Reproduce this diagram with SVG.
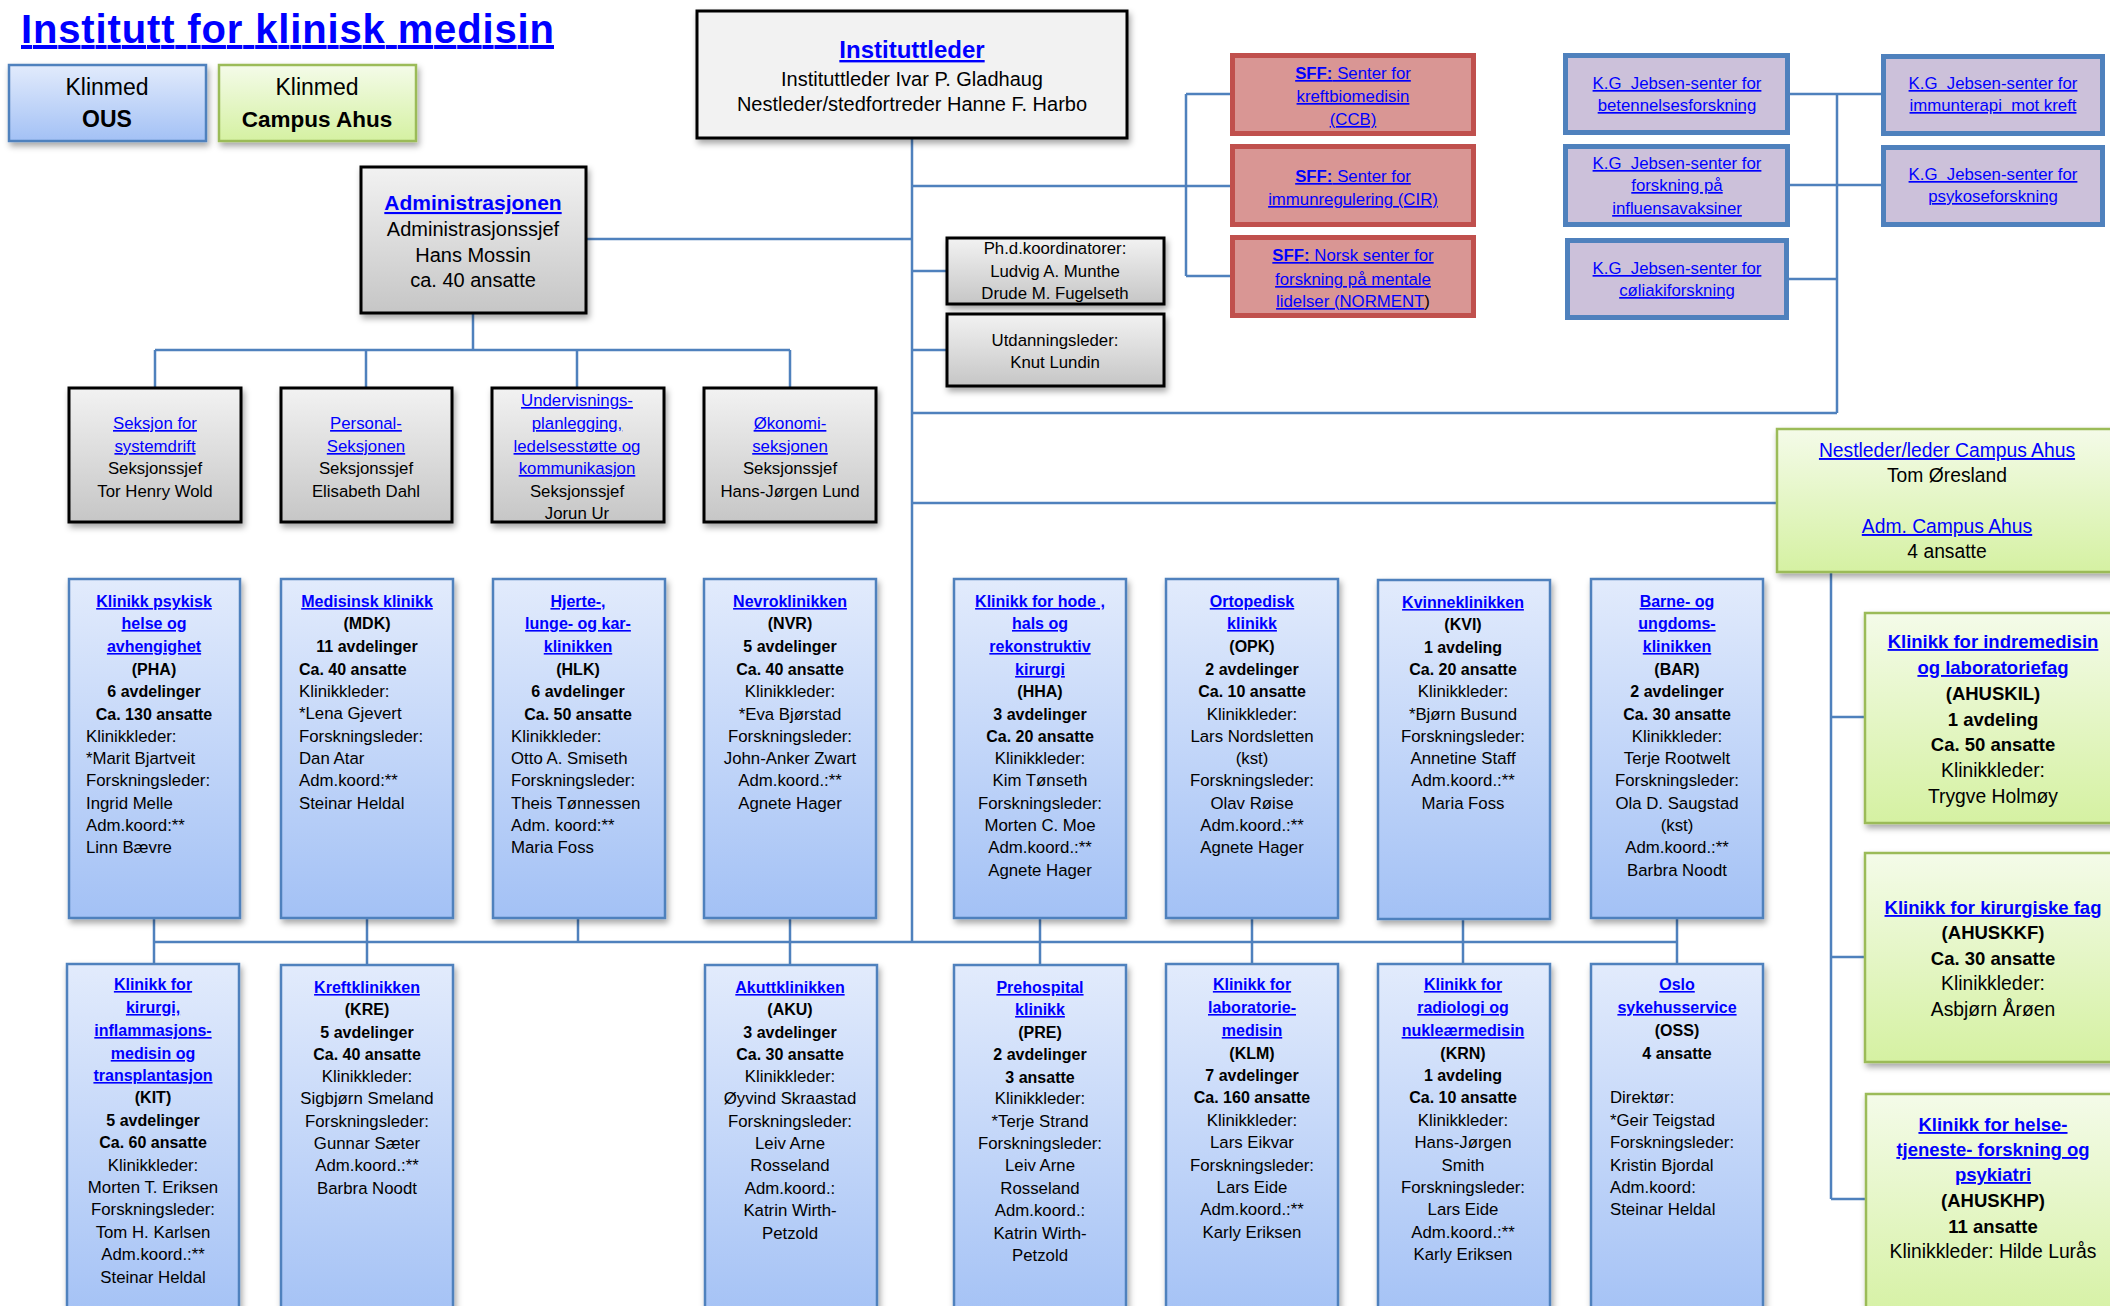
<svg xmlns="http://www.w3.org/2000/svg" width="2110" height="1306" viewBox="0 0 2110 1306">
<defs>
<linearGradient id="gGray" x1="0" y1="0" x2="0" y2="1"><stop offset="0" stop-color="#f2f2f2"/><stop offset="1" stop-color="#c6c6c6"/></linearGradient>
<linearGradient id="gBlue" x1="0" y1="0" x2="0" y2="1"><stop offset="0" stop-color="#e2ebfc"/><stop offset="1" stop-color="#a3c1f5"/></linearGradient>
<linearGradient id="gGreen" x1="0" y1="0" x2="0" y2="1"><stop offset="0" stop-color="#f4fbe9"/><stop offset="1" stop-color="#d5f1a2"/></linearGradient>
<filter id="sh" x="-10%" y="-10%" width="130%" height="130%"><feDropShadow dx="2" dy="4" stdDeviation="3" flood-color="#000" flood-opacity="0.35"/></filter>
<style>
.gray{fill:url(#gGray);stroke:#000;stroke-width:3}
.blue{fill:url(#gBlue);stroke:#4f81bd;stroke-width:2.5}
.green{fill:url(#gGreen);stroke:#9bbb59;stroke-width:2.5}
.sff{fill:#d99694;stroke:#c0504d;stroke-width:5}
.kg{fill:#ccc1da;stroke:#4f81bd;stroke-width:5}
.con path{fill:none;stroke:#4f81bd;stroke-width:2.5}
text{font-family:"Liberation Sans",Arial,Helvetica,sans-serif;font-size:16.8px;fill:#000;text-anchor:middle}
.st{text-anchor:start}
.b{font-weight:bold;font-size:16px}
.lk{fill:#0000ff;text-decoration:underline;font-weight:bold;font-size:16px}
.ln{fill:#0000ff;text-decoration:underline}
.g{font-size:19.3px}
.gb{font-size:18.5px;font-weight:bold}
.glk{font-size:18.5px;font-weight:bold;fill:#0000ff;text-decoration:underline}
</style>
</defs>
<rect width="2110" height="1306" fill="#fff"/>

<text id="title" x="21" y="43" class="st" style="font-size:40px;font-weight:bold;fill:#0000ff;text-decoration:underline" textLength="533" lengthAdjust="spacing">Institutt for klinisk medisin</text>

<g class="con" id="connectors">
<path d="M912 139V942"/>
<path d="M587 239H912"/>
<path d="M912 186H1230"/>
<path d="M1186 94V276M1186 94H1230M1186 276H1230"/>
<path d="M912 271H946M912 350H946"/>
<path d="M912 413H1837M1837 94V413"/>
<path d="M1790 94H1881M1790 185H1881M1789 279H1837"/>
<path d="M912 503H1776"/>
<path d="M1831 573V1199M1831 717H1864M1831 957H1864M1831 1199H1865"/>
<path d="M473 314V350M155 350H790M155 350V387M366 350V387M577 350V387M790 350V387"/>
<path d="M154 942H1677"/>
<path d="M154 919V963M367 919V964M578 919V942M790 919V964M1040 919V964M1252 919V963M1463 920V963M1677 919V963"/>
</g>

<g id="legend-ous"><rect x="9" y="65" width="197" height="76" class="blue" filter="url(#sh)"/>
<text x="107" y="95" style="font-size:23px">Klinmed</text><text x="107" y="127" style="font-size:23px;font-weight:bold">OUS</text></g>
<g id="legend-ahus"><rect x="219" y="65" width="197" height="76" class="green" filter="url(#sh)"/>
<text x="317" y="95" style="font-size:23px">Klinmed</text><text x="317" y="127" style="font-size:22.5px;font-weight:bold">Campus Ahus</text></g>

<g id="instituttleder"><rect x="697" y="11" width="430" height="127" fill="#f2f2f2" stroke="#000" stroke-width="3" filter="url(#sh)"/>
<text x="912" y="58" style="font-size:24px;font-weight:bold;fill:#0000ff;text-decoration:underline">Instituttleder</text>
<text x="912" y="86" style="font-size:20px">Instituttleder Ivar P. Gladhaug</text>
<text x="912" y="111" style="font-size:20px">Nestleder/stedfortreder Hanne F. Harbo</text></g>

<g id="sff-ccb"><rect x="1232.5" y="55.5" width="241" height="78" class="sff"/>
<text x="1353" y="79" class="ln"><tspan font-weight="bold">SFF:</tspan> Senter for</text>
<text x="1353" y="102" class="ln">kreftbiomedisin</text>
<text x="1353" y="125" class="ln">(CCB)</text></g>
<g id="sff-cir"><rect x="1232.5" y="146.5" width="241" height="78" class="sff"/>
<text x="1353" y="182" class="ln"><tspan font-weight="bold">SFF:</tspan> Senter for</text>
<text x="1353" y="205" class="ln">immunregulering (CIR)</text></g>
<g id="sff-norment"><rect x="1232.5" y="237.5" width="241" height="78" class="sff"/>
<text x="1353" y="261" class="ln"><tspan font-weight="bold">SFF:</tspan> Norsk senter for</text>
<text x="1353" y="285" class="ln">forskning på mentale</text>
<text x="1353" y="307"><tspan class="ln">lidelser (NORMENT</tspan>)</text></g>

<g id="kg-betennelse"><rect x="1565.5" y="55.5" width="222" height="77" class="kg"/>
<text x="1677" y="89" class="ln">K.G&#160; Jebsen-senter for</text>
<text x="1677" y="111" class="ln">betennelsesforskning</text></g>
<g id="kg-influensa"><rect x="1565.5" y="146.5" width="222" height="78" class="kg"/>
<text x="1677" y="169" class="ln">K.G&#160; Jebsen-senter for</text>
<text x="1677" y="191" class="ln">forskning på</text>
<text x="1677" y="214" class="ln">influensavaksiner</text></g>
<g id="kg-coliaki"><rect x="1567.5" y="240.5" width="219" height="77" class="kg"/>
<text x="1677" y="274" class="ln">K.G&#160; Jebsen-senter for</text>
<text x="1677" y="296" class="ln">cøliakiforskning</text></g>
<g id="kg-immunterapi"><rect x="1883.5" y="56.5" width="219" height="77" class="kg"/>
<text x="1993" y="89" class="ln">K.G&#160; Jebsen-senter for</text>
<text x="1993" y="111" class="ln">immunterapi&#160; mot kreft</text></g>
<g id="kg-psykose"><rect x="1883.5" y="147.5" width="219" height="77" class="kg"/>
<text x="1993" y="180" class="ln">K.G&#160; Jebsen-senter for</text>
<text x="1993" y="202" class="ln">psykoseforskning</text></g>

<g id="phd"><rect x="947" y="238" width="217" height="66" class="gray" filter="url(#sh)"/>
<text x="1055" y="254">Ph.d.koordinatorer:</text>
<text x="1055" y="277">Ludvig A. Munthe</text>
<text x="1055" y="299">Drude M. Fugelseth</text></g>
<g id="utdanning"><rect x="947" y="314" width="217" height="72" class="gray" filter="url(#sh)"/>
<text x="1055" y="346">Utdanningsleder:</text>
<text x="1055" y="368">Knut Lundin</text></g>

<g id="admin"><rect x="361" y="167" width="225" height="146" class="gray" filter="url(#sh)"/>
<text x="473" y="210" style="font-size:21px;font-weight:bold;fill:#0000ff;text-decoration:underline">Administrasjonen</text>
<text x="473" y="236" style="font-size:20px">Administrasjonssjef</text>
<text x="473" y="262" style="font-size:20px">Hans Mossin</text>
<text x="473" y="287" style="font-size:20px">ca. 40 ansatte</text></g>

<g id="sek-system"><rect x="69" y="388" width="172" height="134" class="gray" filter="url(#sh)"/>
<text x="155" y="429" class="ln">Seksjon for</text><text x="155" y="452" class="ln">systemdrift</text>
<text x="155" y="474">Seksjonssjef</text><text x="155" y="497">Tor Henry Wold</text></g>
<g id="sek-personal"><rect x="281" y="388" width="171" height="134" class="gray" filter="url(#sh)"/>
<text x="366" y="429" class="ln">Personal-</text><text x="366" y="452" class="ln">Seksjonen</text>
<text x="366" y="474">Seksjonssjef</text><text x="366" y="497">Elisabeth Dahl</text></g>
<g id="sek-undervisning"><rect x="492" y="388" width="172" height="134" class="gray" filter="url(#sh)"/>
<text x="577" y="406" class="ln">Undervisnings-</text><text x="577" y="429" class="ln">planlegging,</text>
<text x="577" y="452" class="ln">ledelsesstøtte og</text><text x="577" y="474" class="ln">kommunikasjon</text>
<text x="577" y="497">Seksjonssjef</text><text x="577" y="519">Jorun Ur</text></g>
<g id="sek-okonomi"><rect x="704" y="388" width="172" height="134" class="gray" filter="url(#sh)"/>
<text x="790" y="429" class="ln">Økonomi-</text><text x="790" y="452" class="ln">seksjonen</text>
<text x="790" y="474">Seksjonssjef</text><text x="790" y="497">Hans-Jørgen Lund</text></g>

<g id="pha"><rect x="69" y="579" width="171" height="339" class="blue" filter="url(#sh)"/>
<g transform="translate(0,2)">
<text x="154" y="605" class="lk">Klinikk psykisk</text><text x="154" y="627" class="lk">helse og</text><text x="154" y="650" class="lk">avhengighet</text>
<text x="154" y="673" class="b">(PHA)</text><text x="154" y="695" class="b">6 avdelinger</text><text x="154" y="718" class="b">Ca. 130 ansatte</text>
<text x="86" y="740" class="st">Klinikkleder:</text><text x="86" y="762" class="st">*Marit Bjartveit</text><text x="86" y="784" class="st">Forskningsleder:</text>
<text x="86" y="807" class="st">Ingrid Melle</text><text x="86" y="829" class="st">Adm.koord:**</text><text x="86" y="851" class="st">Linn Bævre</text></g></g>

<g id="mdk"><rect x="281" y="579" width="172" height="339" class="blue" filter="url(#sh)"/>
<g transform="translate(0,2)">
<text x="367" y="605" class="lk">Medisinsk klinikk</text><text x="367" y="627" class="b">(MDK)</text><text x="367" y="650" class="b">11 avdelinger</text>
<text x="299" y="673" class="b st">Ca. 40 ansatte</text>
<text x="299" y="695" class="st">Klinikkleder:</text><text x="299" y="717" class="st">*Lena Gjevert</text><text x="299" y="740" class="st">Forskningsleder:</text>
<text x="299" y="762" class="st">Dan Atar</text><text x="299" y="784" class="st">Adm.koord:**</text><text x="299" y="807" class="st">Steinar Heldal</text></g></g>

<g id="hlk"><rect x="493" y="579" width="172" height="339" class="blue" filter="url(#sh)"/>
<g transform="translate(0,2)">
<text x="578" y="605" class="lk">Hjerte-,</text><text x="578" y="627" class="lk">lunge- og kar-</text><text x="578" y="650" class="lk">klinikken</text>
<text x="578" y="673" class="b">(HLK)</text><text x="578" y="695" class="b">6 avdelinger</text><text x="578" y="718" class="b">Ca. 50 ansatte</text>
<text x="511" y="740" class="st">Klinikkleder:</text><text x="511" y="762" class="st">Otto A. Smiseth</text><text x="511" y="784" class="st">Forskningsleder:</text>
<text x="511" y="807" class="st">Theis Tønnessen</text><text x="511" y="829" class="st">Adm. koord:**</text><text x="511" y="851" class="st">Maria Foss</text></g></g>

<g id="nvr"><rect x="704" y="579" width="172" height="339" class="blue" filter="url(#sh)"/>
<g transform="translate(0,2)">
<text x="790" y="605" class="lk">Nevroklinikken</text><text x="790" y="627" class="b">(NVR)</text><text x="790" y="650" class="b">5 avdelinger</text>
<text x="790" y="673" class="b">Ca. 40 ansatte</text><text x="790" y="695">Klinikkleder:</text><text x="790" y="718">*Eva Bjørstad</text>
<text x="790" y="740">Forskningsleder:</text><text x="790" y="762">John-Anker Zwart</text><text x="790" y="784">Adm.koord.:**</text><text x="790" y="807">Agnete Hager</text></g></g>

<g id="hha"><rect x="954" y="579" width="172" height="339" class="blue" filter="url(#sh)"/>
<g transform="translate(0,2)">
<text x="1040" y="605" class="lk">Klinikk for hode ,</text><text x="1040" y="627" class="lk">hals og</text><text x="1040" y="650" class="lk">rekonstruktiv</text><text x="1040" y="673" class="lk">kirurgi</text>
<text x="1040" y="695" class="b">(HHA)</text><text x="1040" y="718" class="b">3 avdelinger</text><text x="1040" y="740" class="b">Ca. 20 ansatte</text>
<text x="1040" y="762">Klinikkleder:</text><text x="1040" y="784">Kim Tønseth</text><text x="1040" y="807">Forskningsleder:</text>
<text x="1040" y="829">Morten C. Moe</text><text x="1040" y="851">Adm.koord.:**</text><text x="1040" y="874">Agnete Hager</text></g></g>

<g id="opk"><rect x="1166" y="579" width="172" height="339" class="blue" filter="url(#sh)"/>
<g transform="translate(0,2)">
<text x="1252" y="605" class="lk">Ortopedisk</text><text x="1252" y="627" class="lk">klinikk</text>
<text x="1252" y="650" class="b">(OPK)</text><text x="1252" y="673" class="b">2 avdelinger</text><text x="1252" y="695" class="b">Ca. 10 ansatte</text>
<text x="1252" y="718">Klinikkleder:</text><text x="1252" y="740">Lars Nordsletten</text><text x="1252" y="762">(kst)</text>
<text x="1252" y="784">Forskningsleder:</text><text x="1252" y="807">Olav Røise</text><text x="1252" y="829">Adm.koord.:**</text><text x="1252" y="851">Agnete Hager</text></g></g>

<g id="kvi"><rect x="1378" y="580" width="172" height="339" class="blue" filter="url(#sh)"/>
<g transform="translate(0,2)">
<text x="1463" y="606" class="lk">Kvinneklinikken</text><text x="1463" y="628" class="b">(KVI)</text><text x="1463" y="651" class="b">1 avdeling</text>
<text x="1463" y="673" class="b">Ca. 20 ansatte</text><text x="1463" y="695">Klinikkleder:</text><text x="1463" y="718">*Bjørn Busund</text>
<text x="1463" y="740">Forskningsleder:</text><text x="1463" y="762">Annetine Staff</text><text x="1463" y="784">Adm.koord.:**</text><text x="1463" y="807">Maria Foss</text></g></g>

<g id="bar"><rect x="1591" y="579" width="172" height="339" class="blue" filter="url(#sh)"/>
<g transform="translate(0,2)">
<text x="1677" y="605" class="lk">Barne- og</text><text x="1677" y="627" class="lk">ungdoms-</text><text x="1677" y="650" class="lk">klinikken</text>
<text x="1677" y="673" class="b">(BAR)</text><text x="1677" y="695" class="b">2 avdelinger</text><text x="1677" y="718" class="b">Ca. 30 ansatte</text>
<text x="1677" y="740">Klinikkleder:</text><text x="1677" y="762">Terje Rootwelt</text><text x="1677" y="784">Forskningsleder:</text>
<text x="1677" y="807">Ola D. Saugstad</text><text x="1677" y="829">(kst)</text><text x="1677" y="851">Adm.koord.:**</text><text x="1677" y="874">Barbra Noodt</text></g></g>

<g id="kit"><rect x="67" y="964" width="172" height="360" class="blue" filter="url(#sh)"/>
<g transform="translate(0,6)">
<text x="153" y="984" class="lk">Klinikk for</text><text x="153" y="1007" class="lk">kirurgi,</text><text x="153" y="1030" class="lk">inflammasjons-</text>
<text x="153" y="1053" class="lk">medisin og</text><text x="153" y="1075" class="lk">transplantasjon</text>
<text x="153" y="1097" class="b">(KIT)</text><text x="153" y="1120" class="b">5 avdelinger</text><text x="153" y="1142" class="b">Ca. 60 ansatte</text>
<text x="153" y="1165">Klinikkleder:</text><text x="153" y="1187">Morten T. Eriksen</text><text x="153" y="1209">Forskningsleder:</text>
<text x="153" y="1232">Tom H. Karlsen</text><text x="153" y="1254">Adm.koord.:**</text><text x="153" y="1277">Steinar Heldal</text></g></g>

<g id="kre"><rect x="281" y="965" width="172" height="360" class="blue" filter="url(#sh)"/>
<g transform="translate(0,6)">
<text x="367" y="987" class="lk">Kreftklinikken</text><text x="367" y="1009" class="b">(KRE)</text><text x="367" y="1032" class="b">5 avdelinger</text>
<text x="367" y="1054" class="b">Ca. 40 ansatte</text><text x="367" y="1076">Klinikkleder:</text><text x="367" y="1098">Sigbjørn Smeland</text>
<text x="367" y="1121">Forskningsleder:</text><text x="367" y="1143">Gunnar Sæter</text><text x="367" y="1165">Adm.koord.:**</text><text x="367" y="1188">Barbra Noodt</text></g></g>

<g id="aku"><rect x="705" y="965" width="172" height="360" class="blue" filter="url(#sh)"/>
<g transform="translate(0,6)">
<text x="790" y="987" class="lk">Akuttklinikken</text><text x="790" y="1009" class="b">(AKU)</text><text x="790" y="1032" class="b">3 avdelinger</text>
<text x="790" y="1054" class="b">Ca. 30 ansatte</text><text x="790" y="1076">Klinikkleder:</text><text x="790" y="1098">Øyvind Skraastad</text>
<text x="790" y="1121">Forskningsleder:</text><text x="790" y="1143">Leiv Arne</text><text x="790" y="1165">Rosseland</text>
<text x="790" y="1188">Adm.koord.:</text><text x="790" y="1210">Katrin Wirth-</text><text x="790" y="1233">Petzold</text></g></g>

<g id="pre"><rect x="954" y="965" width="172" height="360" class="blue" filter="url(#sh)"/>
<g transform="translate(0,6)">
<text x="1040" y="987" class="lk">Prehospital</text><text x="1040" y="1009" class="lk">klinikk</text>
<text x="1040" y="1032" class="b">(PRE)</text><text x="1040" y="1054" class="b">2 avdelinger</text><text x="1040" y="1077" class="b">3 ansatte</text>
<text x="1040" y="1098">Klinikkleder:</text><text x="1040" y="1121">*Terje Strand</text><text x="1040" y="1143">Forskningsleder:</text>
<text x="1040" y="1165">Leiv Arne</text><text x="1040" y="1188">Rosseland</text><text x="1040" y="1210">Adm.koord.:</text>
<text x="1040" y="1233">Katrin Wirth-</text><text x="1040" y="1255">Petzold</text></g></g>

<g id="klm"><rect x="1166" y="964" width="172" height="360" class="blue" filter="url(#sh)"/>
<g transform="translate(0,6)">
<text x="1252" y="984" class="lk">Klinikk for</text><text x="1252" y="1007" class="lk">laboratorie-</text><text x="1252" y="1030" class="lk">medisin</text>
<text x="1252" y="1053" class="b">(KLM)</text><text x="1252" y="1075" class="b">7 avdelinger</text><text x="1252" y="1097" class="b">Ca. 160 ansatte</text>
<text x="1252" y="1120">Klinikkleder:</text><text x="1252" y="1142">Lars Eikvar</text><text x="1252" y="1165">Forskningsleder:</text>
<text x="1252" y="1187">Lars Eide</text><text x="1252" y="1209">Adm.koord.:**</text><text x="1252" y="1232">Karly Eriksen</text></g></g>

<g id="krn"><rect x="1378" y="964" width="172" height="360" class="blue" filter="url(#sh)"/>
<g transform="translate(0,6)">
<text x="1463" y="984" class="lk">Klinikk for</text><text x="1463" y="1007" class="lk">radiologi og</text><text x="1463" y="1030" class="lk">nukleærmedisin</text>
<text x="1463" y="1053" class="b">(KRN)</text><text x="1463" y="1075" class="b">1 avdeling</text><text x="1463" y="1097" class="b">Ca. 10 ansatte</text>
<text x="1463" y="1120">Klinikkleder:</text><text x="1463" y="1142">Hans-Jørgen</text><text x="1463" y="1165">Smith</text>
<text x="1463" y="1187">Forskningsleder:</text><text x="1463" y="1209">Lars Eide</text><text x="1463" y="1232">Adm.koord.:**</text><text x="1463" y="1254">Karly Eriksen</text></g></g>

<g id="oss"><rect x="1591" y="964" width="172" height="360" class="blue" filter="url(#sh)"/>
<g transform="translate(0,6)">
<text x="1677" y="984" class="lk">Oslo</text><text x="1677" y="1007" class="lk">sykehusservice</text>
<text x="1677" y="1030" class="b">(OSS)</text><text x="1677" y="1053" class="b">4 ansatte</text>
<text x="1610" y="1097" class="st">Direktør:</text><text x="1610" y="1120" class="st">*Geir Teigstad</text><text x="1610" y="1142" class="st">Forskningsleder:</text>
<text x="1610" y="1165" class="st">Kristin Bjordal</text><text x="1610" y="1187" class="st">Adm.koord:</text><text x="1610" y="1209" class="st">Steinar Heldal</text></g></g>

<g id="campus-leder"><rect x="1777" y="429" width="345" height="143" class="green" filter="url(#sh)"/>
<text x="1947" y="457" class="g ln">Nestleder/leder Campus Ahus</text>
<text x="1947" y="482" class="g">Tom Øresland</text>
<text x="1947" y="533" class="g ln">Adm. Campus Ahus</text>
<text x="1947" y="558" class="g">4 ansatte</text></g>

<g id="ahuskil"><rect x="1865" y="613" width="255" height="210" class="green" filter="url(#sh)"/>
<text x="1993" y="648" class="glk">Klinikk for indremedisin</text>
<text x="1993" y="674" class="glk">og laboratoriefag</text>
<text x="1993" y="700" class="gb">(AHUSKIL)</text>
<text x="1993" y="726" class="gb">1 avdeling</text>
<text x="1993" y="751" class="gb">Ca. 50 ansatte</text>
<text x="1993" y="777" class="g">Klinikkleder:</text>
<text x="1993" y="803" class="g">Trygve Holmøy</text></g>

<g id="ahuskkf"><rect x="1865" y="853" width="255" height="209" class="green" filter="url(#sh)"/>
<text x="1993" y="914" class="glk">Klinikk for kirurgiske fag</text>
<text x="1993" y="939" class="gb">(AHUSKKF)</text>
<text x="1993" y="965" class="gb">Ca. 30 ansatte</text>
<text x="1993" y="990" class="g">Klinikkleder:</text>
<text x="1993" y="1016" class="g">Asbjørn Årøen</text></g>

<g id="ahuskhp"><rect x="1866" y="1094" width="255" height="230" class="green" filter="url(#sh)"/>
<text x="1993" y="1131" class="glk">Klinikk for helse-</text>
<text x="1993" y="1156" class="glk">tjeneste- forskning og</text>
<text x="1993" y="1181" class="glk">psykiatri</text>
<text x="1993" y="1207" class="gb">(AHUSKHP)</text>
<text x="1993" y="1233" class="gb">11 ansatte</text>
<text x="1993" y="1258" class="g">Klinikkleder: Hilde Lurås</text></g>
</svg>
